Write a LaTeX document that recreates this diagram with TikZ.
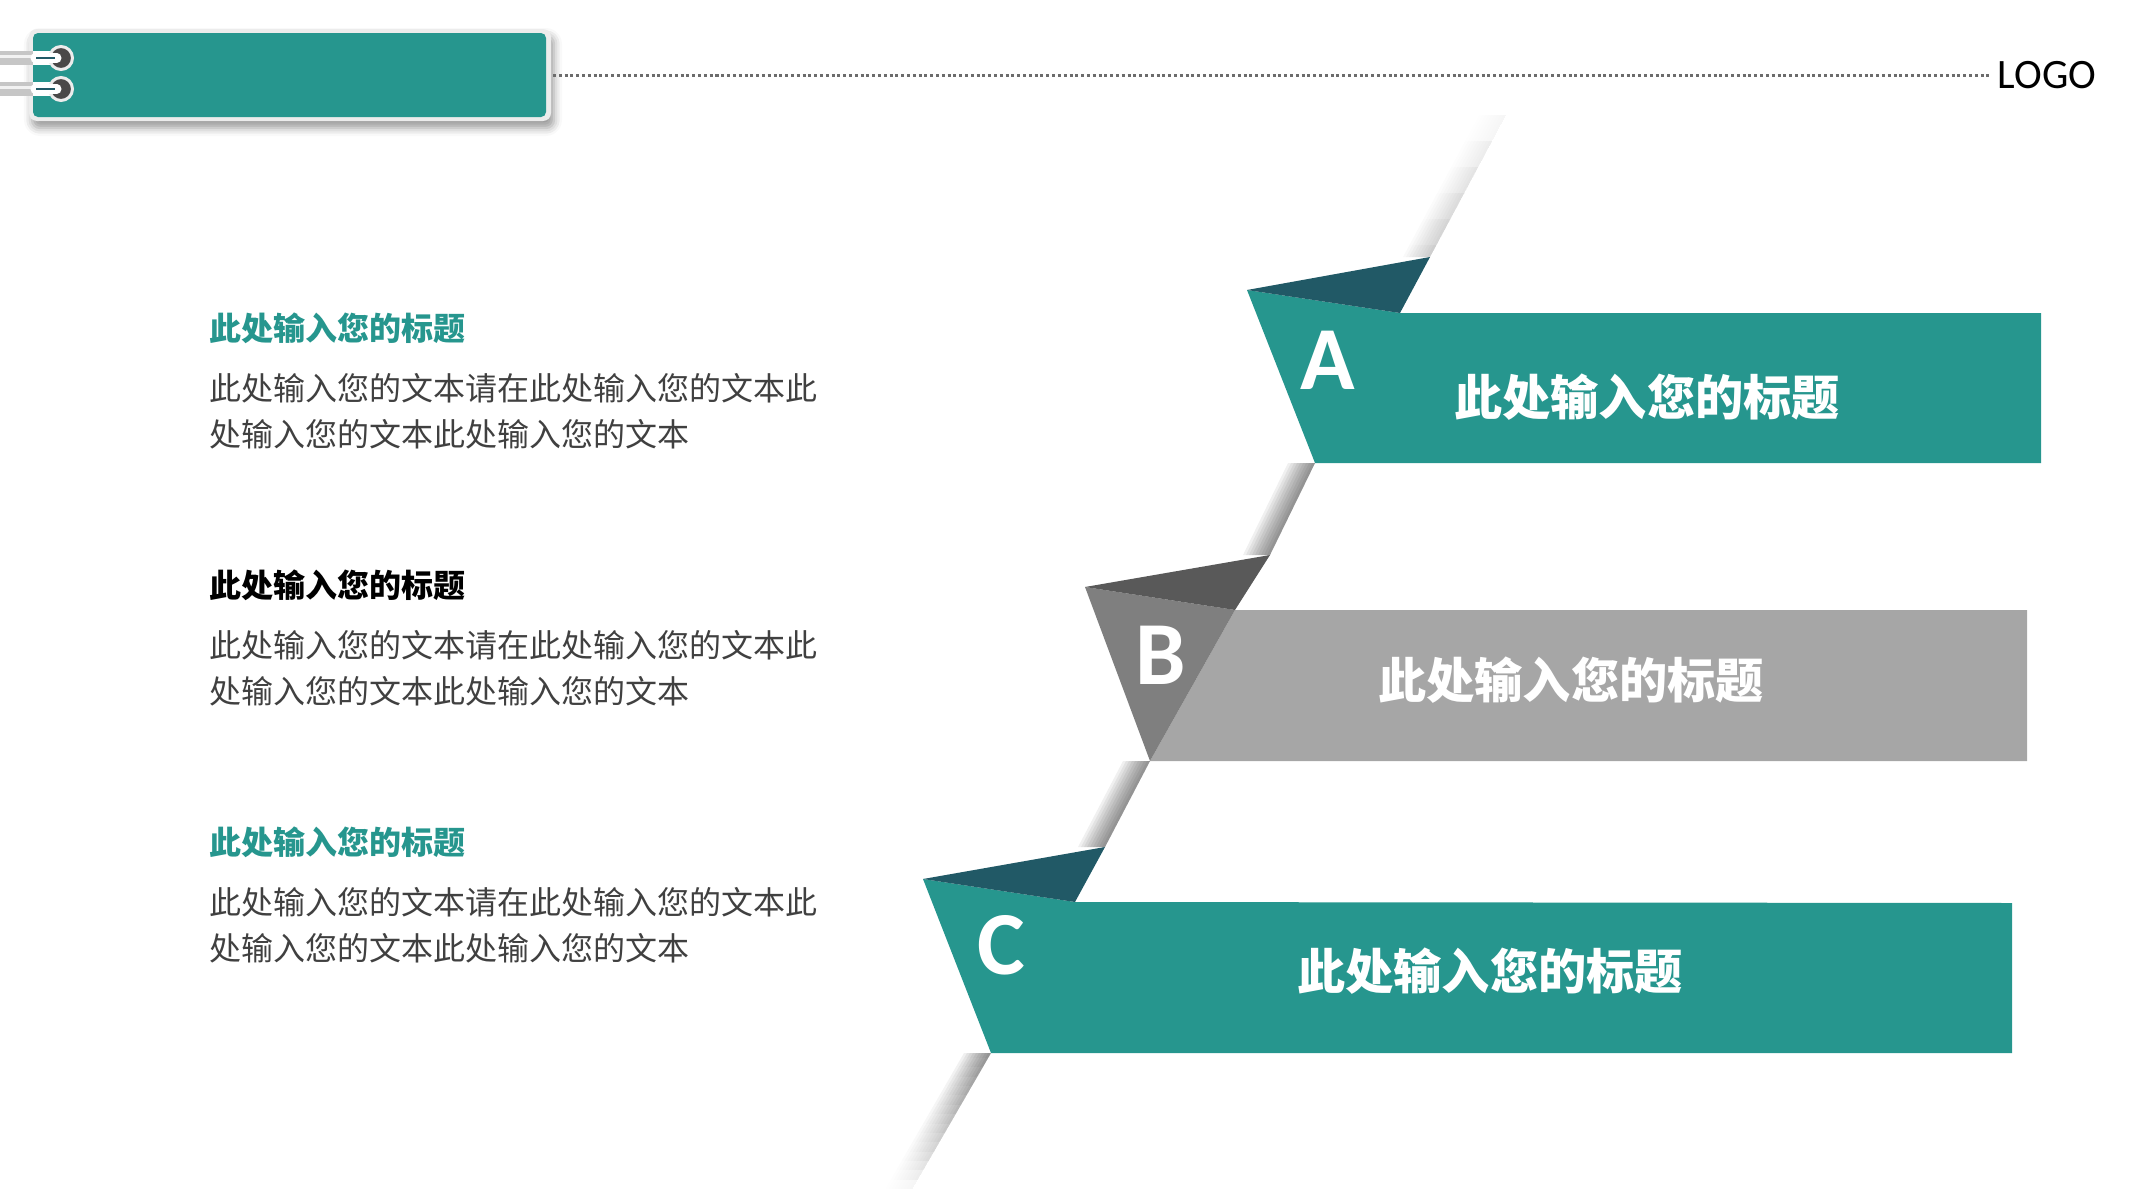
\documentclass[tikz,border=0pt]{standalone}
\usepackage{fontspec}
\setmainfont{Carlito}
\newfontfamily\cjk{Noto Sans CJK SC}
\usetikzlibrary{calc,fadings,shadows.blur}
\definecolor{tealmain}{RGB}{38,150,142}
\definecolor{tealdark}{RGB}{33,89,102}
\definecolor{greylight}{RGB}{166,166,166}
\definecolor{greymid}{RGB}{127,127,127}
\definecolor{greydark}{RGB}{89,89,89}
\definecolor{bodygrey}{RGB}{64,64,64}
\definecolor{ringgrey}{RGB}{74,72,72}

\begin{document}
\begin{tikzpicture}[x=0.01cm, y=-0.01cm,
    lefthead/.style={anchor=west, inner sep=0pt, font=\cjk\bfseries\fontsize{9.1pt}{13pt}\selectfont},
    lefttext/.style={anchor=west, inner sep=0pt, align=left, text=bodygrey, font=\cjk\fontsize{9.1pt}{13.1pt}\selectfont},
    ribletter/.style={inner sep=0pt, text=white, font=\bfseries\fontsize{25.6pt}{26pt}\selectfont},
    ribtitle/.style={inner sep=0pt, text=white, font=\cjk\bfseries\fontsize{13.7pt}{14pt}\selectfont},
    foldshade/.style={black, opacity=0.06}]
    \useasboundingbox (0,0) rectangle (2133,1200);

    % Tab
    \fill[white!85!gray, rounded corners=0.8mm, blur shadow={shadow xshift=0.3mm, shadow yshift=-0.7mm, shadow blur radius=0.8mm, shadow opacity=40}] (29,29) rectangle (551,121);
    \fill[tealmain, rounded corners=0.5mm] (33,33) rectangle (546,117);

    % Rings
    \foreach \y in {58,89} {
        \fill[gray!45] (0,\y-7) rectangle (33,\y+7);
        \fill[white!90!gray] (0,\y-3) rectangle (33,\y);
        \fill[white] (33,\y-7) rectangle (58,\y+7);
        \filldraw[fill=ringgrey, draw=white!85!gray, line width=0.3mm] (61,\y) circle (11.5);
        \draw[white, line width=0.9mm, line cap=round] (35,\y) -- (57,\y);
        \draw[tealdark, line width=0.12mm] (36,\y) -- (55,\y);
    }

    % Logo line
    \coordinate (dotS) at (553,75);
    \node[anchor=west, inner sep=0pt, font=\fontsize{11.9pt}{12pt}\selectfont] (logo) at (1997,75) {LOGO};
    \draw[gray!85!black, line width=0.3mm, dash pattern=on 0.3mm off 0.28mm] (dotS) -- ([xshift=-0.8mm]logo.west);

    % Ribbon corners
    \coordinate (top) at (1513,102);
    \coordinate (bot) at (910,1193);
    \coordinate (aTip) at (1247,290);
    \coordinate (aTop) at (1430,257);
    \coordinate (aIn) at (1400,313);
    \coordinate (aBl) at (1315,463);
    \coordinate (aTr) at (2041,313);
    \coordinate (aBr) at (2041,463);
    \coordinate (bTip) at (1085,587);
    \coordinate (bTop) at (1270,555);
    \coordinate (bIn) at (1235,610);
    \coordinate (bBl) at (1150,761);
    \coordinate (bTr) at (2027,610);
    \coordinate (bBr) at (2027,761);
    \coordinate (cTip) at (923,879);
    \coordinate (cTop) at (1105,847);
    \coordinate (cIn) at (1075,902);
    \coordinate (cBl) at (991,1053);
    \coordinate (cTr) at (2012,903);
    \coordinate (cBr) at (2012,1053);

    % Fold shadows
    \foreach \w in {3,6,...,27} {
        \fill[foldshade, opacity=0.025, path fading=north] (top) -- (aTop) -- ($(aTop)+(-\w,0)$) -- ($(top)+(-\w,0)$) -- cycle;
        \fill[foldshade] (aBl) -- (bTop) -- ($(bTop)+(-\w,0)$) -- ($(aBl)+(-\w,0)$) -- cycle;
        \fill[foldshade] (bBl) -- (cTop) -- ($(cTop)+(-\w,0)$) -- ($(bBl)+(-\w,0)$) -- cycle;
        \fill[foldshade, path fading=south] (cBl) -- (bot) -- ($(bot)+(-\w,0)$) -- ($(cBl)+(-\w,0)$) -- cycle;
    }

    % Ribbon A
    \fill[tealmain] (aTip) -- (aIn) -- (aTr) -- (aBr) -- (aBl) -- cycle;
    \fill[tealdark] (aTip) -- (aTop) -- (aIn) -- cycle;
    \node[ribletter] (letA) at (1328,360) {A};
    \node[ribtitle] (titA) at (1647,397) {此处输入您的标题};

    % Ribbon B
    \fill[greylight] (bIn) -- (bTr) -- (bBr) -- (bBl) -- cycle;
    \fill[greymid] (bTip) -- (bIn) -- (bBl) -- cycle;
    \fill[greydark] (bTip) -- (bTop) -- (bIn) -- cycle;
    \node[ribletter] (letB) at (1161,655) {B};
    \node[ribtitle] (titB) at (1571,680) {此处输入您的标题};

    % Ribbon C
    \fill[tealmain] (cTip) -- (cIn) -- (cTr) -- (cBr) -- (cBl) -- cycle;
    \fill[tealdark] (cTip) -- (cTop) -- (cIn) -- cycle;
    \node[ribletter] (letC) at (1001,945) {C};
    \node[ribtitle] (titC) at (1490,971) {此处输入您的标题};

    % Left texts
    \node[lefthead, text=tealmain] (headA) at (209,328) {此处输入您的标题};
    \node[lefttext] (textA) at (209,411) {此处输入您的文本请在此处输入您的文本此\\处输入您的文本此处输入您的文本};
    \node[lefthead, text=black] (headB) at (209,585) {此处输入您的标题};
    \node[lefttext] (textB) at (209,668) {此处输入您的文本请在此处输入您的文本此\\处输入您的文本此处输入您的文本};
    \node[lefthead, text=tealmain] (headC) at (209,842) {此处输入您的标题};
    \node[lefttext] (textC) at (209,925) {此处输入您的文本请在此处输入您的文本此\\处输入您的文本此处输入您的文本};
\end{tikzpicture}
\end{document}
